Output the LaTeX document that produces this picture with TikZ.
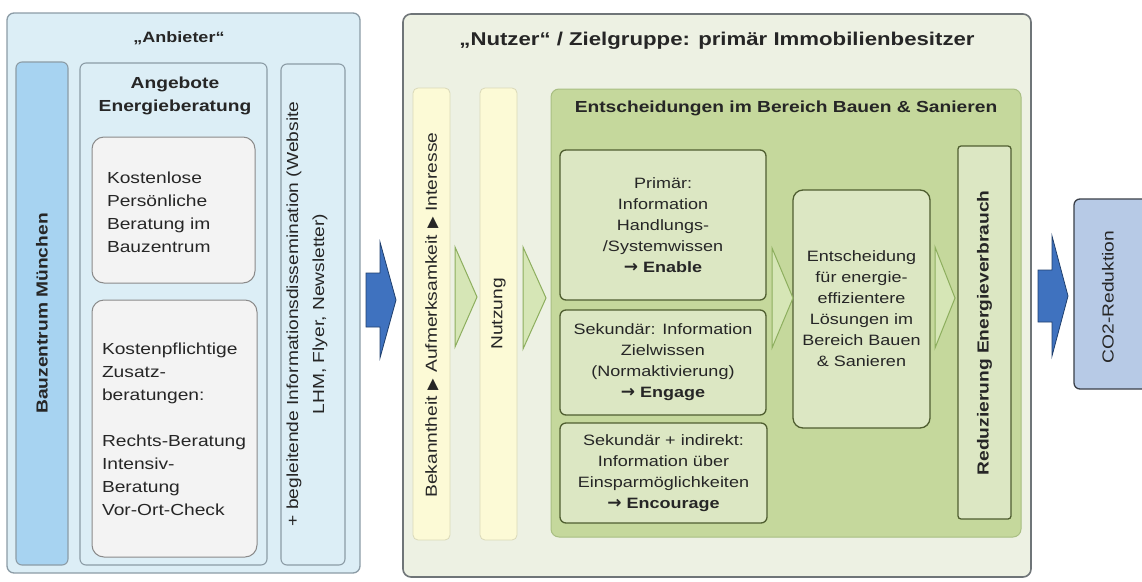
\documentclass[tikz,border=0pt]{standalone}
\usepackage{fontspec}
\setmainfont{Liberation Sans}[FakeStretch=1.2]
\newfontfamily\symfont{DejaVu Sans}
\newcommand{\rarr}{{\symfont\bfseries\fontsize{17}{17}\selectfont →}}
\definecolor{anbfill}{HTML}{DCEEF6}
\definecolor{anbline}{HTML}{8C9CA6}
\definecolor{bzfill}{HTML}{A7D3F1}
\definecolor{greyfill}{HTML}{F3F3F3}
\definecolor{greyline}{HTML}{8A8A8A}
\definecolor{nutfill}{HTML}{EDF1E3}
\definecolor{nutline}{HTML}{6F7578}
\definecolor{yelfill}{HTML}{FCFAD6}
\definecolor{yelline}{HTML}{DAD9B8}
\definecolor{entfill}{HTML}{C5D89C}
\definecolor{entline}{HTML}{A8BE82}
\definecolor{boxfill}{HTML}{DCE7C3}
\definecolor{boxline}{HTML}{4F5E30}
\definecolor{chevfill}{HTML}{D6E6B6}
\definecolor{chevline}{HTML}{8DAE5E}
\definecolor{arrfill}{HTML}{3F72BF}
\definecolor{arrline}{HTML}{20406E}
\definecolor{co2fill}{HTML}{B7CAE6}
\definecolor{co2line}{HTML}{3A3F48}
\definecolor{txt}{HTML}{262626}
\begin{document}
\begin{tikzpicture}[x=1pt,y=-1pt,
  every node/.style={outer sep=0pt, inner sep=0pt, text=txt, font=\fontsize{16}{23}\selectfont},
  anbpanel/.style={draw=anbline, fill=anbfill, line width=1.3pt, rounded corners=7pt},
  anbcol/.style={draw=anbline, fill=anbfill, line width=1.1pt, rounded corners=6pt},
  bzcol/.style={draw=anbline, fill=bzfill, line width=1.1pt, rounded corners=6pt},
  greybox/.style={draw=greyline, fill=greyfill, line width=1pt, rounded corners=12pt},
  nutpanel/.style={draw=nutline, fill=nutfill, line width=1.6pt, rounded corners=8pt},
  yelcol/.style={draw=yelline, fill=yelfill, line width=0.8pt, rounded corners=5pt},
  entpanel/.style={draw=entline, fill=entfill, line width=1pt, rounded corners=8pt},
  gbox/.style={draw=boxline, fill=boxfill, line width=1.3pt, rounded corners=6pt,
    align=center, font=\fontsize{15}{21}\selectfont},
  chev/.style={draw=chevline, fill=chevfill, line width=1pt, line join=miter},
  blockarrow/.style={draw=arrline, fill=arrfill, line width=0.8pt},
  ttl/.style={font=\fontsize{16}{23}\selectfont\bfseries, align=center},
]
\useasboundingbox (0,0) rectangle (1142,581);
\clip (0,0) rectangle (1142,581);
\fill[white] (0,0) rectangle (1142,581);

% ---------- Anbieter ----------
\node[anbpanel, minimum width=353pt, minimum height=560pt] (anb) at (183.5,293) {};
\node[ttl, font=\fontsize{15}{23}\selectfont\bfseries] (anbtitle) at (179,38) {„Anbieter“};
\node[bzcol, minimum width=52pt, minimum height=503pt] (bz) at (42,313.5) {};
\node[ttl, rotate=90] (bztext) at (42,313.5) {Bauzentrum München};
\node[anbcol, minimum width=187pt, minimum height=502pt] (ang) at (173.5,314) {};
\node[ttl] (angtitle) at (175,96) {Angebote\\Energieberatung};
\node[greybox, minimum width=163pt, minimum height=146pt] (kl) at (173.5,210) {};
\node[anchor=west, align=left] (kltext) at (107,212) {Kostenlose\\Persönliche\\Beratung im\\Bauzentrum};
\node[greybox, minimum width=165pt, minimum height=257pt] (kp) at (174.5,428.5) {};
\node[anchor=west, align=left] (kptext) at (102,429) {Kostenpflichtige\\Zusatz-\\beratungen:\\[23pt]Rechts-Beratung\\Intensiv-\\Beratung\\Vor-Ort-Check};
\node[anbcol, minimum width=64pt, minimum height=501pt] (info) at (313,314.5) {};
\node[rotate=90, align=center, font=\fontsize{16}{26}\selectfont] (infotext) at (307,314) {+ begleitende Informationsdissemination (Website\\LHM, Flyer, Newsletter)};

% ---------- arrow 1 ----------
\draw[blockarrow] (366,273) -- (380,273) -- (380,242) -- (396,300) -- (380,358) -- (380,327) -- (366,327) -- cycle;

% ---------- Nutzer ----------
\node[nutpanel, minimum width=628pt, minimum height=563pt] (nut) at (717,295.5) {};
\node[ttl, font=\fontsize{18.5}{23}\selectfont\bfseries] (nuttitle) at (717,41) {„Nutzer“ / Zielgruppe: primär Immobilienbesitzer};
\node[yelcol, minimum width=37pt, minimum height=452pt] (y1) at (431.5,314) {};
\node[rotate=90] (y1text) at (432,315) {Bekanntheit\hspace{6pt}{\symfont\fontsize{15}{15}\selectfont ▶}\hspace{6pt}Aufmerksamkeit\hspace{6pt}{\symfont\fontsize{15}{15}\selectfont ▶}\hspace{6pt}Interesse};
\node[yelcol, minimum width=37pt, minimum height=452pt] (y2) at (498.5,314) {};
\node[rotate=90] (y2text) at (498.5,314) {Nutzung};

\node[entpanel, minimum width=470pt, minimum height=448pt] (ent) at (786,313) {};
\node[ttl] (enttitle) at (786,108) {Entscheidungen im Bereich Bauen \& Sanieren};

\node[gbox, minimum width=206pt, minimum height=150pt] (prim) at (663,225) {Primär:\\Information\\Handlungs-\\/Systemwissen\\\rarr\ \textbf{Enable}};
\node[gbox, minimum width=206pt, minimum height=105pt] (sek) at (663,362.5) {Sekundär: Information\\Zielwissen\\(Normaktivierung)\\\rarr\ \textbf{Engage}};
\node[gbox, minimum width=207pt, minimum height=100pt] (ind) at (663.5,473) {Sekundär + indirekt:\\Information über\\Einsparmöglichkeiten\\\rarr\ \textbf{Encourage}};
\node[gbox, rounded corners=10pt, minimum width=137pt, minimum height=238pt] (dec) at (861.5,309) {Entscheidung\\für energie-\\effizientere\\Lösungen im\\Bereich Bauen\\\& Sanieren};
\node[gbox, rounded corners=3pt, minimum width=53pt, minimum height=373pt] (red) at (984.5,332.5) {};
\node[ttl, rotate=90] (redtext) at (984.5,333) {Reduzierung Energieverbrauch};

% ---------- chevrons ----------
\draw[chev] (455,247) -- (477,297) -- (455,347) -- cycle;
\draw[chev] (523,247) -- (546,298) -- (523,349) -- cycle;
\draw[chev] (772,248) -- (793,298) -- (772,348) -- cycle;
\draw[chev] (935,247) -- (955,298) -- (935,348) -- cycle;

% ---------- arrow 2 + CO2 ----------
\draw[blockarrow] (1038,270) -- (1052,270) -- (1052,236) -- (1068,296) -- (1052,356) -- (1052,322) -- (1038,322) -- cycle;
\node[draw=co2line, fill=co2fill, line width=1.3pt, rounded corners=6pt, minimum width=90pt, minimum height=190pt] (co2) at (1119,294) {};
\node[rotate=90] (co2text) at (1108,297) {CO2-Reduktion};
\end{tikzpicture}
\end{document}
